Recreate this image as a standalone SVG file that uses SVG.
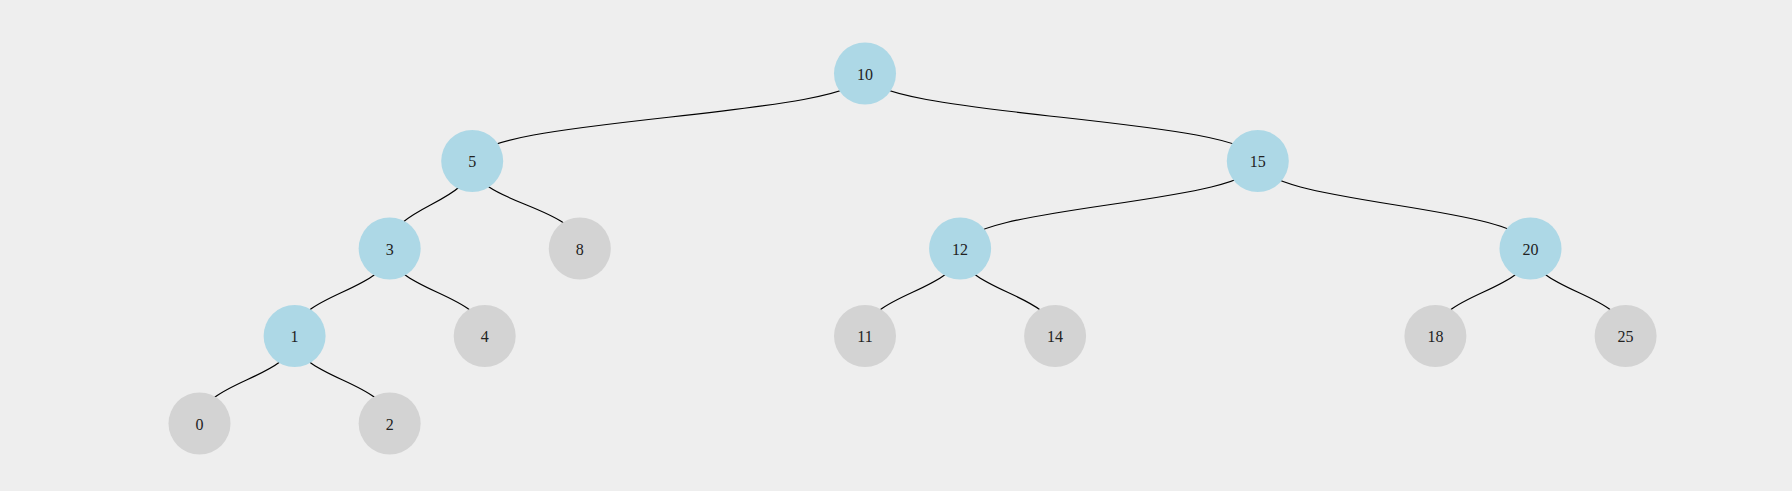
<svg xmlns="http://www.w3.org/2000/svg" width="1792" height="491" viewBox="0 0 1792 491">
<style>
.bg{fill:#eeeeee}
.link{fill:none;stroke:#000;stroke-width:1.2}
.inner circle{fill:#add8e6}
.leaf circle{fill:#d3d3d3}
.node circle{stroke:none}
.node text{font-family:"Liberation Serif","Times New Roman",serif;font-size:16px;fill:#222;text-anchor:middle}
</style>
<rect class="bg" x="0" y="0" width="1792" height="491"/>
<g id="links">
<path class="link" d="M865,73.5 C865,117.25 472.2,117.25 472.2,161"/>
<path class="link" d="M865,73.5 C865,117.25 1257.8,117.25 1257.8,161"/>
<path class="link" d="M472.2,161 C472.2,204.75 389.65,204.75 389.65,248.5"/>
<path class="link" d="M472.2,161 C472.2,204.75 579.8,204.75 579.8,248.5"/>
<path class="link" d="M389.65,248.5 C389.65,292.25 294.6,292.25 294.6,336"/>
<path class="link" d="M389.65,248.5 C389.65,292.25 484.7,292.25 484.7,336"/>
<path class="link" d="M294.6,336 C294.6,379.75 199.5,379.75 199.5,423.5"/>
<path class="link" d="M294.6,336 C294.6,379.75 389.65,379.75 389.65,423.5"/>
<path class="link" d="M1257.8,161 C1257.8,204.75 960.1,204.75 960.1,248.5"/>
<path class="link" d="M1257.8,161 C1257.8,204.75 1530.5,204.75 1530.5,248.5"/>
<path class="link" d="M960.1,248.5 C960.1,292.25 865,292.25 865,336"/>
<path class="link" d="M960.1,248.5 C960.1,292.25 1055.1,292.25 1055.1,336"/>
<path class="link" d="M1530.5,248.5 C1530.5,292.25 1435.4,292.25 1435.4,336"/>
<path class="link" d="M1530.5,248.5 C1530.5,292.25 1625.6,292.25 1625.6,336"/>
</g>
<g id="node-10" class="node inner" transform="translate(865,73.5)"><circle r="31"/><text y="6">10</text></g>
<g id="node-5" class="node inner" transform="translate(472.2,161)"><circle r="31"/><text y="6">5</text></g>
<g id="node-15" class="node inner" transform="translate(1257.8,161)"><circle r="31"/><text y="6">15</text></g>
<g id="node-3" class="node inner" transform="translate(389.65,248.5)"><circle r="31"/><text y="6">3</text></g>
<g id="node-8" class="node leaf" transform="translate(579.8,248.5)"><circle r="31"/><text y="6">8</text></g>
<g id="node-12" class="node inner" transform="translate(960.1,248.5)"><circle r="31"/><text y="6">12</text></g>
<g id="node-20" class="node inner" transform="translate(1530.5,248.5)"><circle r="31"/><text y="6">20</text></g>
<g id="node-1" class="node inner" transform="translate(294.6,336)"><circle r="31"/><text y="6">1</text></g>
<g id="node-4" class="node leaf" transform="translate(484.7,336)"><circle r="31"/><text y="6">4</text></g>
<g id="node-11" class="node leaf" transform="translate(865,336)"><circle r="31"/><text y="6">11</text></g>
<g id="node-14" class="node leaf" transform="translate(1055.1,336)"><circle r="31"/><text y="6">14</text></g>
<g id="node-18" class="node leaf" transform="translate(1435.4,336)"><circle r="31"/><text y="6">18</text></g>
<g id="node-25" class="node leaf" transform="translate(1625.6,336)"><circle r="31"/><text y="6">25</text></g>
<g id="node-0" class="node leaf" transform="translate(199.5,423.5)"><circle r="31"/><text y="6">0</text></g>
<g id="node-2" class="node leaf" transform="translate(389.65,423.5)"><circle r="31"/><text y="6">2</text></g>
</svg>
